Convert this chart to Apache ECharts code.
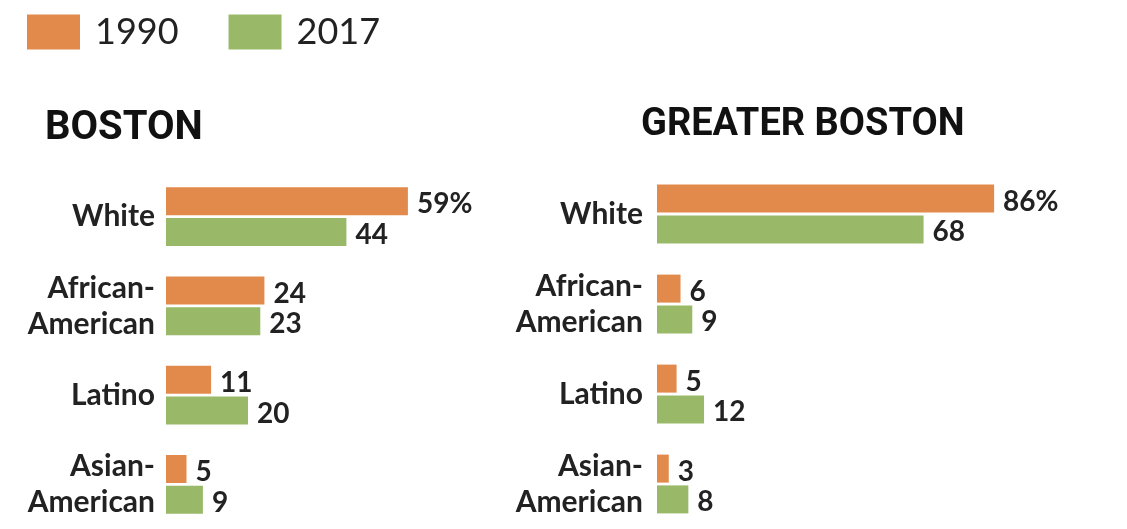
<!DOCTYPE html>
<html>
<head>
<meta charset="utf-8">
<script src="https://cdn.jsdelivr.net/npm/echarts@6/dist/echarts.min.js"></script>
<style>
html,body{margin:0;padding:0;background:#fff;}
#chart{width:1127px;height:529px;}
</style>
</head>
<body>
<div id="chart"></div>
<script>
var categories = ['White', 'African-\nAmerican', 'Latino', 'Asian-\nAmerican'];
var boston1990 = [59, 24, 11, 5];
var boston2017 = [44, 23, 20, 9];
var greater1990 = [86, 6, 5, 3];
var greater2017 = [68, 9, 12, 8];
var seriesNames = ['1990', '2017'];
var titles = ['BOSTON', 'GREATER BOSTON'];

var ORANGE = '#E28A4B';
var GREEN = '#99B968';

var chart = echarts.init(document.getElementById('chart'));

function labelCfg(withPct) {
  return {
    show: true,
    position: 'right',
    distance: 9,
    offset: [0, 3],
    fontFamily: 'Lato',
    fontWeight: 'bold',
    fontSize: 28,
    color: '#222',
    formatter: function (p) { return (withPct && p.dataIndex === 0) ? p.value + '%' : String(p.value); }
  };
}

function mkSeries(name, data, idx, color, withPct) {
  return {
    type: 'bar',
    name: name,
    data: data,
    xAxisIndex: idx,
    yAxisIndex: idx,
    barWidth: 28,
    barGap: '10%',
    itemStyle: { color: color },
    label: labelCfg(withPct),
    animation: false
  };
}

function yAxisCfg(idx, margin) {
  return {
    type: 'category',
    gridIndex: idx,
    data: categories,
    inverse: true,
    axisLine: { show: false },
    axisTick: { show: false },
    axisLabel: {
      margin: margin,
      fontFamily: 'Lato',
      fontWeight: 'bold',
      fontSize: 30,
      lineHeight: 36,
      color: '#222',
      align: 'right'
    }
  };
}

function xAxisCfg(idx) {
  return {
    type: 'value',
    gridIndex: idx,
    min: 0,
    max: 100,
    show: false,
    splitLine: { show: false }
  };
}

chart.setOption({
  backgroundColor: '#fff',
  animation: false,
  title: [
    { text: titles[0], left: 40, top: 104, textStyle: { fontFamily: 'Roboto', fontWeight: 'bold', fontSize: 40, color: '#111' } },
    { text: titles[1], left: 636, top: 101, textStyle: { fontFamily: 'Roboto', fontWeight: 'bold', fontSize: 38, color: '#111' } }
  ],
  legend: {
    left: 22,
    top: 9,
    itemWidth: 53,
    itemHeight: 35,
    itemGap: 50,
    icon: 'rect',
    data: seriesNames,
    textStyle: { fontFamily: 'Lato', fontSize: 36, color: '#222', padding: [0, 0, 0, 10] }
  },
  grid: [
    { left: 166, top: 172, width: 410, height: 364 },
    { left: 657, top: 169, width: 392, height: 364 }
  ],
  xAxis: [xAxisCfg(0), xAxisCfg(1)],
  yAxis: [yAxisCfg(0, 11), yAxisCfg(1, 14)],
  series: [
    mkSeries(seriesNames[0], boston1990, 0, ORANGE, true),
    mkSeries(seriesNames[1], boston2017, 0, GREEN, false),
    mkSeries(seriesNames[0], greater1990, 1, ORANGE, true),
    mkSeries(seriesNames[1], greater2017, 1, GREEN, false)
  ]
});
</script>
</body>
</html>
